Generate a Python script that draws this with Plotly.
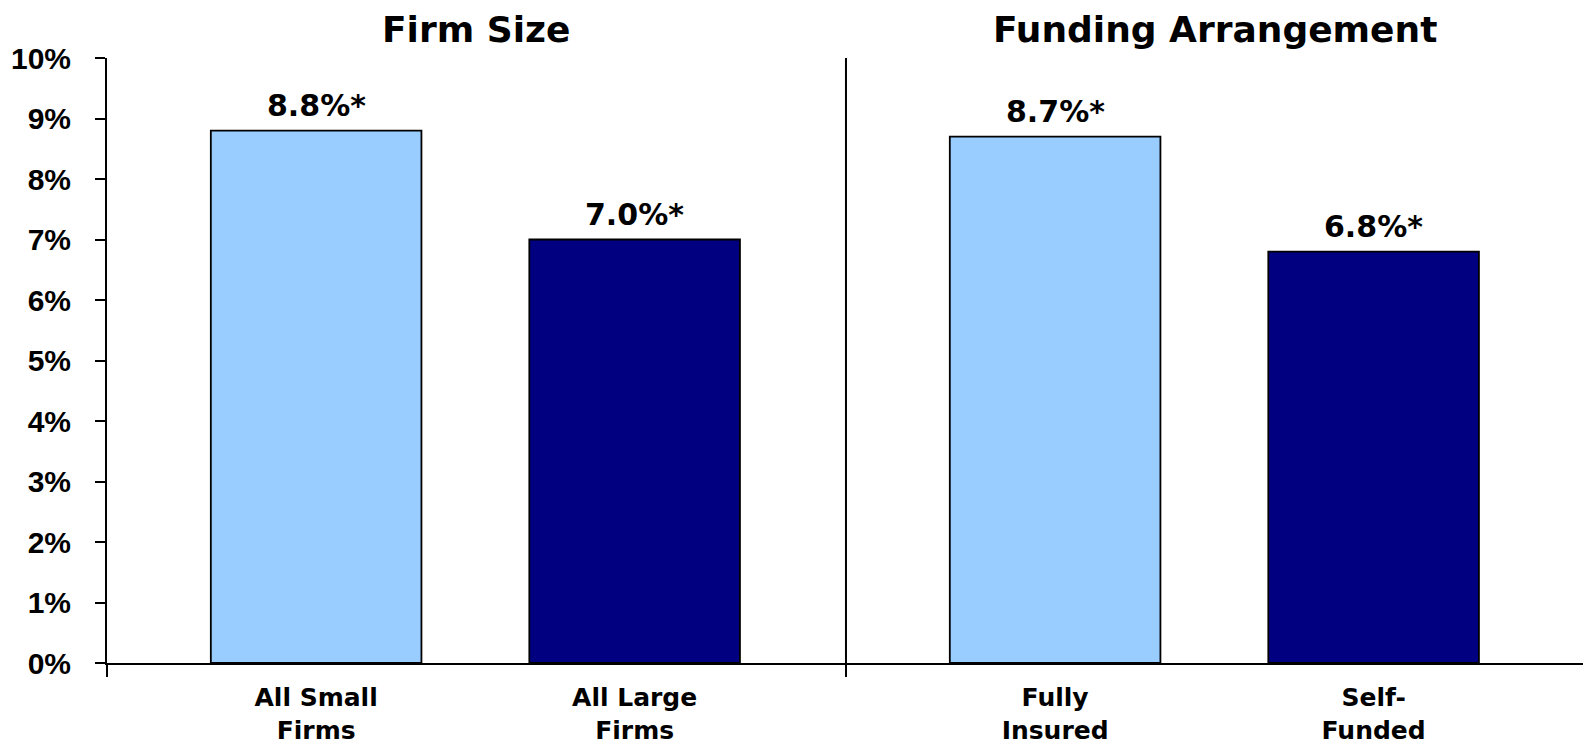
import plotly.graph_objects as go

# ---- data ----
groups = ["Firm Size", "Funding Arrangement"]
categories = ["All Small<br>Firms", "All Large<br>Firms", "Fully<br>Insured", "Self-<br>Funded"]
group_of = [0, 0, 1, 1]
values = [8.8, 7.0, 8.7, 6.8]
value_labels = ["8.8%*", "7.0%*", "8.7%*", "6.8%*"]
y_ticks = [0, 1, 2, 3, 4, 5, 6, 7, 8, 9, 10]

# ---- styling / layout constants ----
bar_colors = ["#99CCFF", "#000080", "#99CCFF", "#000080"]
slot_offsets = [0.283, 0.714]   # bar centre within a group (group width = 1)
bar_width = 0.285
x_end = 2.019

# bar positions derived from group index and slot within group
slot_counter = {}
xpos = []
for g in group_of:
    k = slot_counter.get(g, 0)
    xpos.append(g + slot_offsets[k])
    slot_counter[g] = k + 1

FONT = "DejaVu Sans"
AXFONT = "Liberation Sans"

fig = go.Figure()
fig.add_trace(go.Bar(
    x=xpos, y=values, width=bar_width,
    marker=dict(color=bar_colors, line=dict(color="black", width=1.8)),
    hoverinfo="skip", showlegend=False,
))

annotations = []
for x, v, t in zip(xpos, values, value_labels):
    annotations.append(dict(x=x, y=v, xref="x", yref="y", text=f"<b>{t}</b>",
                            showarrow=False, yanchor="bottom", yshift=6,
                            font=dict(family=FONT, size=30, color="black")))
for i, g in enumerate(groups):
    annotations.append(dict(x=i + 0.5, y=1.047, xref="x", yref="paper", text=f"<b>{g}</b>",
                            showarrow=False, yanchor="middle",
                            font=dict(family=FONT, size=36, color="black")))

shapes = [
    dict(type="line", xref="x", yref="y", x0=1, x1=1, y0=0, y1=10,
         line=dict(color="black", width=2)),
    dict(type="line", xref="x", yref="paper", x0=x_end - 0.001, x1=x_end - 0.001, y0=0, y1=1,
         line=dict(color="#888888", width=2)),
]

fig.update_layout(
    width=1600, height=755,
    margin=dict(l=107, r=1, t=58, b=92),
    paper_bgcolor="white", plot_bgcolor="white",
    annotations=annotations, shapes=shapes,
    xaxis=dict(
        range=[0, x_end], showgrid=False, zeroline=False, automargin=False,
        showline=True, linecolor="black", linewidth=2,
        tickmode="array", tickvals=xpos,
        ticktext=[f"<b>{c}</b>" for c in categories],
        ticks="", ticklabelstandoff=11,
        tickfont=dict(family=FONT, size=25, color="black"),
        minor=dict(tickmode="array", tickvals=[0, 1, x_end - 0.001], ticks="outside",
                   ticklen=12, tickwidth=2, tickcolor="black", showgrid=False),
    ),
    yaxis=dict(
        range=[0, 10], showgrid=False, zeroline=False, automargin=False,
        showline=True, linecolor="black", linewidth=2,
        tickmode="array", tickvals=y_ticks,
        ticktext=[f"<b>{v}%</b>" for v in y_ticks],
        ticks="outside", ticklen=10, tickwidth=2, tickcolor="black",
        ticklabelstandoff=18,
        tickfont=dict(family=AXFONT, size=30, color="black"),
    ),
)

fig.write_html(
    "out.html",
    config={"displayModeBar": False},
    post_script=(
        "document.body.style.margin='0';"
        "document.body.style.overflow='hidden';"
    ),
)
